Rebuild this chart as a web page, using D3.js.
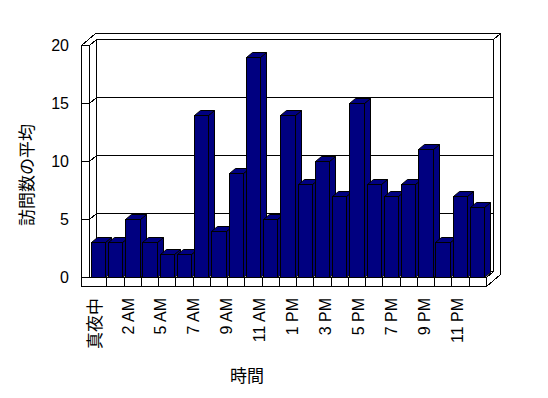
<!DOCTYPE html>
<html>
<head>
<meta charset="utf-8">
<script src="https://cdn.jsdelivr.net/npm/d3@7"></script>
<style>
  html, body { margin: 0; padding: 0; background: #ffffff; }
  svg { display: block; }
  text { font-family: "Liberation Sans", Arial, "Noto Sans CJK JP", sans-serif; fill: #000; }
  .cjk { font-family: "Noto Sans CJK JP", "Liberation Sans", sans-serif; }
</style>
</head>
<body>
<svg id="chart" width="548" height="398"></svg>
<script>
// ---- data ----
const categories = ["真夜中","1 AM","2 AM","3 AM","5 AM","6 AM","7 AM","8 AM","9 AM","10 AM","11 AM","正午",
                    "1 PM","2 PM","3 PM","4 PM","5 PM","6 PM","7 PM","8 PM","9 PM","10 PM","11 PM"];
const visits = [3,3,5,3,2,2,14,4,9,19,5,14,8,10,7,15,8,7,8,11,3,7,6];
const yTicks = [0,5,10,15,20];
const xTitle = "時間";
const yTitle = "訪問数の平均";

// ---- layout ----
const svg = d3.select("#chart");
const X0 = 89.5, X1 = 486.5;      // front plot edges
const D = {dx: 7, dy: -6};        // depth of plot / wall thickness
const B = {dx: 6, dy: -5};        // bar depth
const WALL = 8;                   // left wall thickness
const FLOOR_BOTTOM = 286.5;
const navy = "#000080";

const y = d3.scaleLinear().domain([0, 20]).range([277.5, 45.5]);
const x = d3.scaleBand().domain(d3.range(categories.length)).range([X0, X1])
  .paddingInner(0.17).paddingOuter(0.1);
const xc = d3.scaleLinear().domain([0, categories.length]).range([X0, X1]);
const xl = d3.scaleLinear().domain([0, categories.length - 1]).range([95, 457]);

const snap = v => Math.round(v - 0.5) + 0.5;
const line = (g, pts) => g.append("path")
  .attr("d", d3.line()(pts)).attr("fill", "none").attr("stroke", "#000")
  .attr("stroke-width", 1).attr("shape-rendering", "crispEdges");
const isCJK = s => /[^\x00-\x7F]/.test(s);

const g = svg.append("g");
const yTop = y(20), y0 = y(0);
const bx0 = X0 + D.dx, bx1 = X1 + D.dx;   // back wall inner face
const ox0 = X0 - WALL, ox1 = bx1 + D.dx;  // outer

// back wall inner face
g.append("path")
  .attr("d", d3.line()([[bx0, yTop + D.dy],[bx1, yTop + D.dy],[bx1, y0 + D.dy],[bx0, y0 + D.dy]]) + "Z")
  .attr("fill", "#fff").attr("stroke", "#000").attr("shape-rendering", "crispEdges");

// gridlines + ticks on left wall
yTicks.forEach(v => {
  const yy = y(v);
  line(g, [[ox0, yy], [X0, yy]]);
  if (v > 0 && v < 20) {
    line(g, [[X0, yy], [bx0, yy + D.dy], [bx1, yy + D.dy]]);
  }
});

// wall outlines
line(g, [[ox0, yTop], [ox0 + 2 * D.dx, yTop + 2 * D.dy], [ox1, yTop + 2 * D.dy]]);   // outer top
line(g, [[X0, yTop], [bx0, yTop + D.dy]]);                                              // inner diagonal
line(g, [[bx1, yTop + D.dy], [ox1, yTop + 2 * D.dy]]);                                  // top-right diagonal
line(g, [[ox1, yTop + 2 * D.dy], [ox1, FLOOR_BOTTOM + 2 * D.dy], [X1, FLOOR_BOTTOM]]); // right outer
line(g, [[ox0, yTop], [ox0, FLOOR_BOTTOM], [X1, FLOOR_BOTTOM], [X1, y0]]);             // left/floor front
line(g, [[ox0, yTop], [X0, yTop], [X0, y0], [X1, y0], [bx1, y0 + D.dy]]);               // inner front + floor top

// category boundary ticks on floor front
d3.range(1, categories.length).forEach(k => {
  const xx = snap(xc(k));
  line(g, [[xx, y0], [xx, FLOOR_BOTTOM]]);
});

// bars
const bars = g.append("g");
visits.forEach((v, i) => {
  const xa = snap(x(i)), xb = snap(x(i) + x.bandwidth());
  const yt = snap(y(v)), yb = y0;
  const bg = bars.append("g").attr("fill", navy).attr("stroke", "#000")
    .attr("stroke-width", 1).attr("stroke-linejoin", "miter");
  bg.append("path").attr("d", d3.line()([[xb, yb],[xb + B.dx, yb + B.dy],[xb + B.dx, yt + B.dy],[xb, yt]]) + "Z");
  bg.append("path").attr("d", d3.line()([[xa, yt],[xa + B.dx, yt + B.dy],[xb + B.dx, yt + B.dy],[xb, yt]]) + "Z");
  bg.append("path").attr("d", d3.line()([[xa, yt],[xb, yt],[xb, yb],[xa, yb]]) + "Z")
    .attr("shape-rendering", "crispEdges");
});

// y tick labels
g.append("g").selectAll("text").data(yTicks).join("text")
  .attr("x", 69).attr("y", d => y(d)).attr("dy", "0.35em")
  .attr("text-anchor", "end").attr("font-size", 16).text(d => d);

// x tick labels (every other category)
g.append("g").selectAll("text")
  .data(categories.map((c, i) => ({c, i})).filter(d => d.i % 2 === 0))
  .join("text")
  .attr("class", d => isCJK(d.c) ? "cjk" : null)
  .attr("transform", d => `translate(${xl(d.i)},298) rotate(-90)`)
  .attr("dy", "0.35em").attr("text-anchor", "end")
  .attr("font-size", d => isCJK(d.c) ? 17 : 16)
  .text(d => d.c);

// axis titles
g.append("text").attr("class", "cjk")
  .attr("transform", "translate(27.5,175) rotate(-90)")
  .attr("dy", "0.35em").attr("text-anchor", "middle").attr("font-size", 17).text(yTitle);
g.append("text").attr("class", "cjk")
  .attr("x", 247).attr("y", 376).attr("dy", "0.35em")
  .attr("text-anchor", "middle").attr("font-size", 17).text(xTitle);
</script>
</body>
</html>
